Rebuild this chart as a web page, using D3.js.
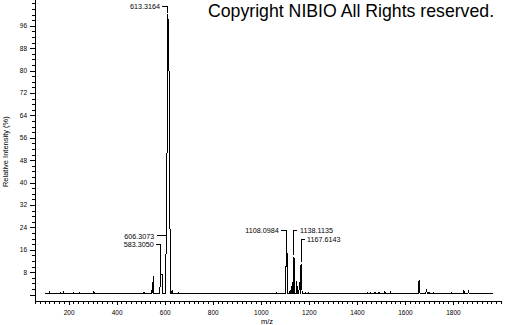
<!DOCTYPE html>
<html>
<head>
<meta charset="utf-8">
<script src="https://cdn.jsdelivr.net/npm/d3@7"></script>
<style>
  body { margin: 0; background: #fff; }
  svg { display: block; font-family: "Liberation Sans", Arial, sans-serif; }
</style>
</head>
<body>
<svg class="chart"></svg>
<script>
// profile spectrum, [m/z, relative intensity %]
const profile = [
  [100, 0.3],
  [118, 0.3], [120, 0.8], [122, 0.3],
  [163, 0.3], [165, 0.7], [167, 0.3],
  [178, 0.3], [180, 0.9], [182, 0.3],
  [217, 0.3], [219, 0.6], [221, 0.3],
  [242, 0.3], [244, 0.6], [246, 0.3],
  [303, 0.3], [305, 1.1], [308, 0.3],
  [512, 0.3], [514, 0.8], [516, 0.3],
  [546, 0.3], [548, 2.4], [550, 0.6], [552, 6.6], [554, 0.3],
  [580, 0.3], [583.305, 17.6], [584.3, 7.3], [589, 7.3], [590, 0.3],
  [602, 0.3], [604, 5], [606.3073, 20.5], [610, 54], [613.3164, 100], [619, 75], [622, 24.6], [624, 0.3],
  [628, 0.3], [631, 1.6], [634, 0.3],
  [654, 0.3], [656, 0.7], [658, 0.3],
  [1064, 0.3], [1066, 0.7], [1068, 0.3],
  [1101, 0.3], [1104, 9.9], [1106, 9.9], [1108.0984, 23], [1111, 0.3],
  [1119, 0.3], [1122, 1.5], [1125, 0.3],
  [1128, 0.3], [1131, 4.6], [1133, 0.3],
  [1135, 0.3], [1138.1135, 13.5], [1140, 7], [1142, 0.3],
  [1147, 0.3], [1150, 4.8], [1152, 0.3],
  [1158, 0.3], [1162, 4.6], [1164, 0.3],
  [1165, 0.3], [1167.6143, 11], [1170, 7], [1172, 0.3],
  [1184, 0.3], [1186, 1], [1188, 0.3],
  [1197, 0.3], [1199, 1], [1201, 0.3],
  [1443, 0.3], [1446, 0.7], [1449, 0.3],
  [1456, 0.3], [1458, 0.6], [1460, 0.3],
  [1473, 0.3], [1475, 1], [1477, 0.3],
  [1490, 0.3], [1492, 1], [1494, 0.3],
  [1513, 0.3], [1516, 1], [1519, 0.3],
  [1536, 0.3], [1539, 0.8], [1541, 0.3],
  [1655, 0.3], [1659, 5.2], [1661, 2.8], [1663, 0.3],
  [1687, 0.3], [1690, 2], [1693, 0.3],
  [1699, 0.3], [1701, 1], [1703, 0.3],
  [1716, 0.3], [1718, 0.7], [1720, 0.3],
  [1792, 0.3], [1794, 0.5], [1796, 0.3],
  [1842, 0.3], [1845, 1.5], [1848, 0.3],
  [1862, 0.3], [1865, 1], [1868, 0.3],
  [1968, 0.3]
]

const peakLabels = ["583.3050", "606.3073", "613.3164", "1108.0984", "1138.1135", "1167.6143"]
const xTickLabels = [200, 400, 600, 800, 1000, 1200, 1400, 1600, 1800]
const yTickLabels = [0, 8, 16, 24, 32, 40, 48, 56, 64, 72, 80, 88, 96]

// label placement: side of the peak, level of the leader (in %), gap to the peak
const labelLayout = [
  { side: "left", level: 17.9, gap: 6 },
  { side: "left", level: 20.9, gap: 11 },
  { side: "left", level: 103, gap: 7 },
  { side: "left", level: 23, gap: 7 },
  { side: "right", level: 23, gap: 5 },
  { side: "right", level: 19.8, gap: 5 }
]

const width = 505,
      height = 325,
      left = 35,
      right = 501,
      axisY = 301

const svg = d3.select(".chart")
    .attr("width", width)
    .attr("height", height)

svg.append("rect").attr("width", width).attr("height", height).attr("fill", "#fff")

const x = d3.scaleLinear().domain([60, 2000]).range([left, right])
const y = d3.scaleLinear().domain([0, 105]).range([294.5, 0.5])

// y axis
svg.append("g")
    .attr("transform", `translate(${left},0)`)
    .call(d3.axisLeft(y).tickValues(d3.range(0, 105, 2)).tickSize(3).tickFormat(""))
svg.append("g")
    .attr("transform", `translate(${left},0)`)
    .call(d3.axisLeft(y).tickValues(yTickLabels).tickSize(5).tickPadding(3)
      .tickFormat(d => d === 0 ? "" : d))

// x axis
svg.append("g")
    .attr("transform", `translate(0,${axisY})`)
    .call(d3.axisBottom(x).tickValues(d3.range(60, 2001, 20)).tickSize(3).tickFormat(""))
svg.append("g")
    .attr("transform", `translate(0,${axisY})`)
    .call(d3.axisBottom(x).tickValues(xTickLabels).tickSize(4).tickPadding(5)
      .tickFormat(d3.format("d")))

svg.selectAll(".domain").remove()
svg.selectAll(".tick line").attr("shape-rendering", "crispEdges").attr("stroke", "#000")
svg.selectAll(".tick text").attr("font-size", "6.5px").attr("fill", "#000")
  .attr("font-family", "\"Liberation Sans\", Arial, sans-serif")

svg.append("line")
    .attr("x1", left).attr("x2", left)
    .attr("y1", 0).attr("y2", axisY)
    .attr("stroke", "#000").attr("shape-rendering", "crispEdges")
svg.append("line")
    .attr("x1", left).attr("x2", right)
    .attr("y1", axisY).attr("y2", axisY)
    .attr("stroke", "#000").attr("shape-rendering", "crispEdges")

// spectrum
const line = d3.line()
    .x(d => x(d[0]))
    .y(d => y(d[1]))

svg.append("path")
    .datum(profile)
    .attr("d", line)
    .attr("fill", "none")
    .attr("stroke", "#000")
    .attr("stroke-width", 1)
    .attr("shape-rendering", "crispEdges")

// peak labels with leaders
peakLabels.forEach((label, i) => {
  const mz = +label,
        lay = labelLayout[i],
        peak = profile.find(p => Math.abs(p[0] - mz) < 0.001),
        px = x(mz),
        top = y(peak[1]),
        ly = y(lay.level),
        tx = lay.side === "left" ? px - lay.gap : px + lay.gap

  const g = svg.append("g").attr("class", "peak-label")

  g.append("line")
      .attr("x1", tx + (lay.side === "left" ? 1.5 : -1.5)).attr("x2", px)
      .attr("y1", ly).attr("y2", ly)
      .attr("stroke", "#000").attr("shape-rendering", "crispEdges")

  if (top - ly > 2) {
    g.append("line")
        .attr("x1", px).attr("x2", px)
        .attr("y1", ly).attr("y2", top - 1.5)
        .attr("stroke", "#000").attr("shape-rendering", "crispEdges")
  }

  g.append("text")
      .attr("x", lay.side === "left" ? tx - 1 : tx + 1)
      .attr("y", ly)
      .attr("dy", "0.35em")
      .attr("text-anchor", lay.side === "left" ? "end" : "start")
      .attr("font-size", "7.2px")
      .text(label)
})

// axis titles
svg.append("text")
    .attr("transform", `translate(8,${y(51)}) rotate(-90)`)
    .attr("text-anchor", "middle")
    .attr("font-size", "7.5px")
    .text("Relative Intensity (%)")

svg.append("text")
    .attr("x", 267)
    .attr("y", 323.5)
    .attr("text-anchor", "middle")
    .attr("font-size", "7.5px")
    .text("m/z")

svg.append("text")
    .attr("x", 208)
    .attr("y", 17)
    .attr("font-size", "17.7px")
    .text("Copyright NIBIO All Rights reserved.")
</script>
</body>
</html>
